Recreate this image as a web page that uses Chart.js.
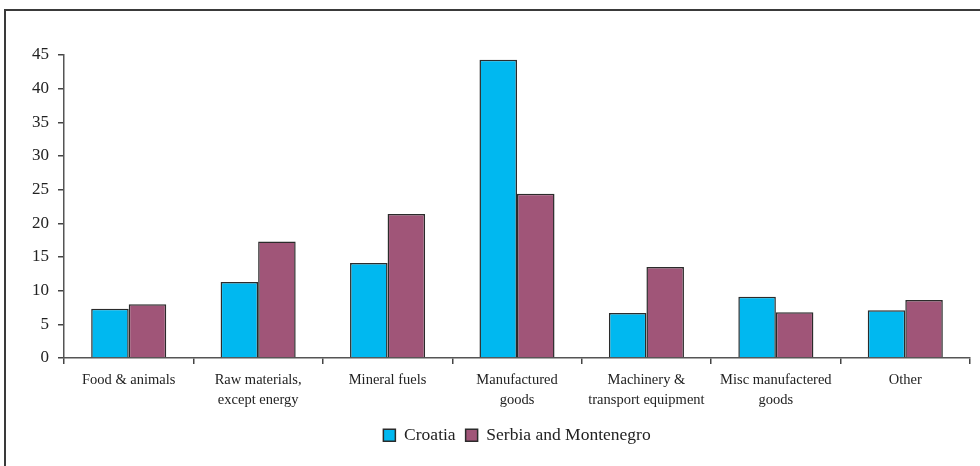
<!DOCTYPE html>
<html>
<head>
<meta charset="utf-8">
<script src="https://cdn.jsdelivr.net/npm/chart.js@4.4.1/dist/chart.umd.min.js"></script>
<style>
  html, body { margin: 0; padding: 0; background: #fff; }
  #wrap { position: relative; width: 980px; height: 466px; overflow: hidden; }
  #frame { position: absolute; left: 4px; top: 9px; width: 990px; height: 480px;
           border-left: 2px solid #3a3a3a; border-top: 2px solid #3a3a3a; }
  #chart { position: absolute; left: 0; top: 0; }
</style>
</head>
<body>
<div id="wrap">
  <div id="frame"></div>
  <canvas id="chart" width="980" height="466"></canvas>
</div>
<script>
var categories = [
  "Food & animals",
  ["Raw materials,", "except energy"],
  "Mineral fuels",
  ["Manufactured", "goods"],
  ["Machinery &", "transport equipment"],
  ["Misc manufactered", "goods"],
  "Other"
];
var croatia = [7.3, 11.3, 14.1, 44.3, 6.7, 9.1, 7.1];
var serbiaMontenegro = [8.0, 17.3, 21.4, 24.4, 13.5, 6.8, 8.6];

var serif = "'Liberation Serif', 'Times New Roman', serif";

document.addEventListener("DOMContentLoaded", function() {
  var ctx = document.getElementById("chart").getContext("2d");

  var chart = new Chart(ctx, {
    type: "bar",
    data: {
      labels: categories,
      datasets: [
        {
          label: "Croatia",
          data: croatia,
          backgroundColor: "#00b8f0",
          borderColor: "#2b2b2b",
          borderWidth: 1.5,
          barPercentage: 1,
          categoryPercentage: 0.58
        },
        {
          label: "Serbia and Montenegro",
          data: serbiaMontenegro,
          backgroundColor: "#a05578",
          borderColor: "#2b2b2b",
          borderWidth: 1.5,
          barPercentage: 1,
          categoryPercentage: 0.58
        }
      ]
    },
    options: {
      responsive: false,
      animation: false,
      layout: { padding: { top: 55, right: 10, bottom: 12, left: 0 } },
      plugins: {
        tooltip: { enabled: false },
        legend: {
          position: "bottom",
          fullSize: false,
          labels: {
            boxWidth: 12,
            boxHeight: 12,
            padding: 10,
            color: "#222",
            font: { family: serif, size: 17.5 }
          }
        }
      },
      scales: {
        x: {
          afterFit: function(scale) { scale.height = 58.5; },
          grid: {
            offset: true,
            drawOnChartArea: false,
            drawTicks: true,
            tickLength: 6,
            color: "#444",
            lineWidth: 1.5
          },
          border: { display: true, color: "#555", width: 1.5 },
          ticks: {
            maxRotation: 0,
            autoSkip: false,
            padding: 6,
            color: "#222",
            font: { family: serif, size: 14.5, lineHeight: 1.38 }
          }
        },
        y: {
          min: 0,
          max: 45,
          afterFit: function(scale) { scale.width = 64; },
          grid: {
            drawOnChartArea: false,
            drawTicks: true,
            tickLength: 6,
            color: "#444",
            lineWidth: 1.5
          },
          border: { display: true, color: "#555", width: 1.5 },
          ticks: {
            stepSize: 5,
            padding: 9,
            color: "#222",
            font: { family: serif, size: 17 }
          }
        }
      }
    }
  });
});
</script>
</body>
</html>
